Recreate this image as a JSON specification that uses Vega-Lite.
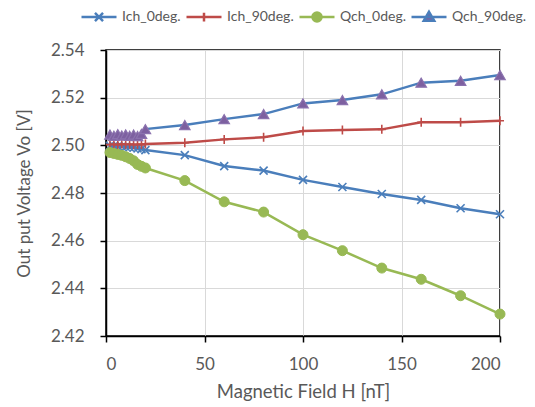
{
  "$schema": "https://vega.github.io/schema/vega-lite/v6.json",
  "width": 394,
  "height": 286,
  "autosize": "none",
  "padding": {"left": 106, "top": 50, "right": 35, "bottom": 71},
  "config": {
    "font": "Lato",
    "view": {"stroke": "#000000", "strokeWidth": 1.5},
    "axis": {
      "labelColor": "#595959",
      "titleColor": "#595959",
      "titleFontWeight": "normal",
      "labelFontSize": 17,
      "domainColor": "#000000",
      "domainWidth": 1.5,
      "tickColor": "#000000",
      "tickWidth": 1.5,
      "tickSize": 6,
      "gridColor": "#D9D9D9",
      "gridWidth": 1
    }
  },
  "data": {
    "values": [
      {"H": 2, "series": "Ich_0deg.", "V": 2.4998},
      {"H": 4, "series": "Ich_0deg.", "V": 2.4997},
      {"H": 6, "series": "Ich_0deg.", "V": 2.4996},
      {"H": 8, "series": "Ich_0deg.", "V": 2.4995},
      {"H": 10, "series": "Ich_0deg.", "V": 2.4994},
      {"H": 12, "series": "Ich_0deg.", "V": 2.4992},
      {"H": 14, "series": "Ich_0deg.", "V": 2.4990},
      {"H": 16, "series": "Ich_0deg.", "V": 2.4987},
      {"H": 18, "series": "Ich_0deg.", "V": 2.4984},
      {"H": 20, "series": "Ich_0deg.", "V": 2.4980},
      {"H": 40, "series": "Ich_0deg.", "V": 2.4959},
      {"H": 60, "series": "Ich_0deg.", "V": 2.4913},
      {"H": 80, "series": "Ich_0deg.", "V": 2.4894},
      {"H": 100, "series": "Ich_0deg.", "V": 2.4855},
      {"H": 120, "series": "Ich_0deg.", "V": 2.4825},
      {"H": 140, "series": "Ich_0deg.", "V": 2.4796},
      {"H": 160, "series": "Ich_0deg.", "V": 2.4771},
      {"H": 180, "series": "Ich_0deg.", "V": 2.4736},
      {"H": 200, "series": "Ich_0deg.", "V": 2.4711},
      {"H": 2, "series": "Ich_90deg.", "V": 2.5003},
      {"H": 4, "series": "Ich_90deg.", "V": 2.5005},
      {"H": 6, "series": "Ich_90deg.", "V": 2.5002},
      {"H": 8, "series": "Ich_90deg.", "V": 2.5006},
      {"H": 10, "series": "Ich_90deg.", "V": 2.5003},
      {"H": 12, "series": "Ich_90deg.", "V": 2.5005},
      {"H": 14, "series": "Ich_90deg.", "V": 2.5002},
      {"H": 16, "series": "Ich_90deg.", "V": 2.5004},
      {"H": 18, "series": "Ich_90deg.", "V": 2.5003},
      {"H": 20, "series": "Ich_90deg.", "V": 2.5006},
      {"H": 40, "series": "Ich_90deg.", "V": 2.5011},
      {"H": 60, "series": "Ich_90deg.", "V": 2.5025},
      {"H": 80, "series": "Ich_90deg.", "V": 2.5034},
      {"H": 100, "series": "Ich_90deg.", "V": 2.5060},
      {"H": 120, "series": "Ich_90deg.", "V": 2.5064},
      {"H": 140, "series": "Ich_90deg.", "V": 2.5067},
      {"H": 160, "series": "Ich_90deg.", "V": 2.5097},
      {"H": 180, "series": "Ich_90deg.", "V": 2.5097},
      {"H": 200, "series": "Ich_90deg.", "V": 2.5103},
      {"H": 2, "series": "Qch_0deg.", "V": 2.4970},
      {"H": 4, "series": "Qch_0deg.", "V": 2.4966},
      {"H": 6, "series": "Qch_0deg.", "V": 2.4962},
      {"H": 8, "series": "Qch_0deg.", "V": 2.4958},
      {"H": 10, "series": "Qch_0deg.", "V": 2.4952},
      {"H": 12, "series": "Qch_0deg.", "V": 2.4945},
      {"H": 14, "series": "Qch_0deg.", "V": 2.4935},
      {"H": 16, "series": "Qch_0deg.", "V": 2.4920},
      {"H": 18, "series": "Qch_0deg.", "V": 2.4912},
      {"H": 20, "series": "Qch_0deg.", "V": 2.4905},
      {"H": 40, "series": "Qch_0deg.", "V": 2.4852},
      {"H": 60, "series": "Qch_0deg.", "V": 2.4763},
      {"H": 80, "series": "Qch_0deg.", "V": 2.4720},
      {"H": 100, "series": "Qch_0deg.", "V": 2.4625},
      {"H": 120, "series": "Qch_0deg.", "V": 2.4558},
      {"H": 140, "series": "Qch_0deg.", "V": 2.4485},
      {"H": 160, "series": "Qch_0deg.", "V": 2.4438},
      {"H": 180, "series": "Qch_0deg.", "V": 2.4369},
      {"H": 200, "series": "Qch_0deg.", "V": 2.4292},
      {"H": 2, "series": "Qch_90deg.", "V": 2.5045},
      {"H": 4, "series": "Qch_90deg.", "V": 2.5040},
      {"H": 6, "series": "Qch_90deg.", "V": 2.5047},
      {"H": 8, "series": "Qch_90deg.", "V": 2.5041},
      {"H": 10, "series": "Qch_90deg.", "V": 2.5046},
      {"H": 12, "series": "Qch_90deg.", "V": 2.5040},
      {"H": 14, "series": "Qch_90deg.", "V": 2.5045},
      {"H": 16, "series": "Qch_90deg.", "V": 2.5039},
      {"H": 18, "series": "Qch_90deg.", "V": 2.5048},
      {"H": 20, "series": "Qch_90deg.", "V": 2.5068},
      {"H": 40, "series": "Qch_90deg.", "V": 2.5085},
      {"H": 60, "series": "Qch_90deg.", "V": 2.5110},
      {"H": 80, "series": "Qch_90deg.", "V": 2.5131},
      {"H": 100, "series": "Qch_90deg.", "V": 2.5176},
      {"H": 120, "series": "Qch_90deg.", "V": 2.5190},
      {"H": 140, "series": "Qch_90deg.", "V": 2.5214},
      {"H": 160, "series": "Qch_90deg.", "V": 2.5263},
      {"H": 180, "series": "Qch_90deg.", "V": 2.5271},
      {"H": 200, "series": "Qch_90deg.", "V": 2.5295}
    ]
  },
  "encoding": {
    "x": {
      "field": "H",
      "type": "quantitative",
      "scale": {"domain": [0, 200], "nice": false},
      "axis": {
        "values": [0, 50, 100, 150, 200],
        "title": "Magnetic Field H [nT]",
        "titleFontSize": 18.5,
        "labelPadding": 14,
        "titlePadding": 10
      }
    },
    "y": {
      "field": "V",
      "type": "quantitative",
      "scale": {"domain": [2.42, 2.54], "nice": false, "zero": false},
      "axis": {
        "values": [2.42, 2.44, 2.46, 2.48, 2.5, 2.52, 2.54],
        "format": ".2f",
        "title": "Out put Voltage Vo [V]",
        "titleFontSize": 17,
        "labelPadding": 16,
        "titlePadding": 17
      }
    }
  },
  "layer": [
    {
      "mark": {"type": "line", "strokeWidth": 2.5},
      "encoding": {
        "color": {
          "field": "series",
          "type": "nominal",
          "scale": {
            "domain": ["Ich_0deg.", "Ich_90deg.", "Qch_0deg.", "Qch_90deg."],
            "range": ["#4A7EBB", "#BE4B48", "#98B954", "#4A7EBB"]
          },
          "legend": {
            "orient": "none",
            "legendX": -26,
            "legendY": -52,
            "direction": "horizontal",
            "gridAlign": "none",
            "title": null,
            "symbolSize": 1225,
            "symbolStrokeWidth": 2.5,
            "labelFontSize": 14,
            "labelColor": "#595959",
            "labelOffset": 4,
            "columnPadding": 0,
            "encode": {
              "symbols": {
                "update": {
                  "shape": {"signal": "datum.value === 'Ich_0deg.' ? 'M-1,0L1,0M-0.23,-0.23L0.23,0.23M-0.23,0.23L0.23,-0.23' : datum.value === 'Ich_90deg.' ? 'M-1,0L1,0M0,-0.25L0,0.25' : datum.value === 'Qch_0deg.' ? 'M-1,0L1,0M0.26,0A0.26,0.26,0,1,1,-0.26,0A0.26,0.26,0,1,1,0.26,0Z' : 'M-1,0L1,0M0,-0.3L0.3,0.22L-0.3,0.22Z'"},
                  "fill": {"signal": "datum.value === 'Ich_0deg.' ? '#4A7EBB' : datum.value === 'Ich_90deg.' ? '#BE4B48' : datum.value === 'Qch_0deg.' ? '#98B954' : '#7D60A0'"},
                  "stroke": {"signal": "datum.value === 'Ich_0deg.' ? '#4A7EBB' : datum.value === 'Ich_90deg.' ? '#BE4B48' : datum.value === 'Qch_0deg.' ? '#98B954' : '#4A7EBB'"},
                  "opacity": {"value": 1}
                }
              }
            }
          }
        }
      }
    },
    {
      "transform": [{"filter": "datum.series === 'Ich_0deg.'"}],
      "mark": {"type": "point", "shape": "M-0.8,-0.8L0.8,0.8M-0.8,0.8L0.8,-0.8", "filled": false, "stroke": "#4A7EBB", "strokeWidth": 1.6, "size": 100, "opacity": 1},
      "encoding": {}
    },
    {
      "transform": [{"filter": "datum.series === 'Ich_90deg.'"}],
      "mark": {"type": "point", "shape": "M0,-0.9L0,0.9M-0.8,0L0.8,0", "filled": false, "stroke": "#BE4B48", "strokeWidth": 1.6, "size": 100, "opacity": 1},
      "encoding": {}
    },
    {
      "transform": [{"filter": "datum.series === 'Qch_0deg.'"}],
      "mark": {"type": "point", "shape": "circle", "filled": true, "fill": "#98B954", "stroke": "#98B954", "strokeWidth": 1, "size": 100, "opacity": 1},
      "encoding": {}
    },
    {
      "transform": [{"filter": "datum.series === 'Qch_90deg.'"}],
      "mark": {"type": "point", "shape": "triangle-up", "filled": true, "fill": "#7D60A0", "stroke": "#8B72AE", "strokeWidth": 1.2, "size": 110, "opacity": 1},
      "encoding": {}
    }
  ]
}
